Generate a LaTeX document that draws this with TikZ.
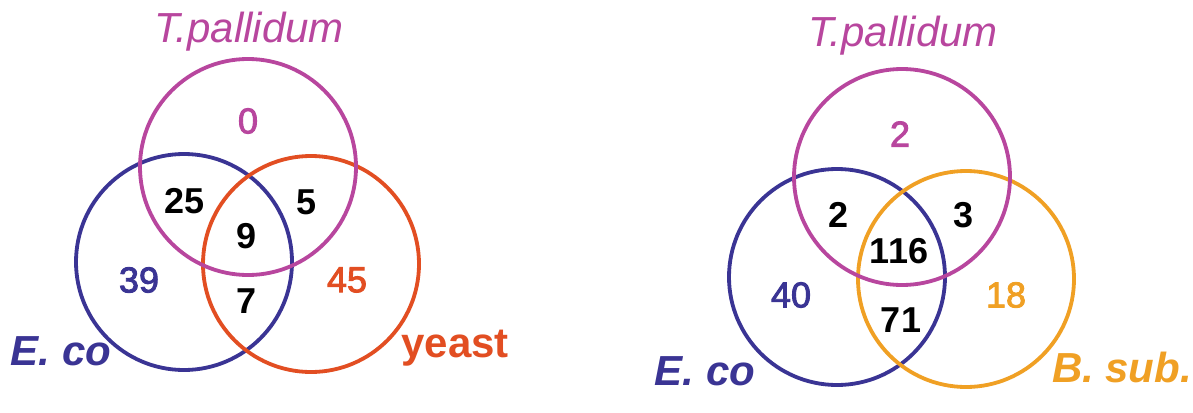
\documentclass[tikz,border=0pt]{standalone}
\usepackage{fontspec}
\setmainfont{Liberation Sans}
\newfontfamily\midfont[FakeBold=2.5]{Liberation Sans}
\definecolor{cpink}{RGB}{184,70,158}
\definecolor{cblue}{RGB}{58,52,148}
\definecolor{cred}{RGB}{226,78,34}
\definecolor{corange}{RGB}{240,160,36}
\tikzset{
  venn/.style={circle, draw=#1, line width=3.8pt, minimum size=216pt, inner sep=0pt},
  num/.style={inner sep=0pt, font=\fontsize{36}{40}\midfont},
  bnum/.style={inner sep=0pt, font=\fontsize{36}{40}\selectfont\bfseries},
  lab/.style={inner sep=0pt, anchor=base, font=\fontsize{42}{48}\selectfont}
}
\begin{document}
\begin{tikzpicture}[x=1pt,y=-1pt]
\path[use as bounding box, fill=white] (0,0) rectangle (1193,412);
% left diagram
\node[venn=cblue] (ec1) at (184,262) {};
\node[venn=cred] (ye1) at (311,264) {};
\node[venn=cpink] (tp1) at (248,167) {};
\node[lab, text=cpink, font=\fontsize{42}{48}\selectfont\itshape] (ltp1) at (249,43) {T.pallidum};
\node[lab, text=cblue, font=\fontsize{42}{48}\selectfont\bfseries\itshape] (lec1) at (61,365) {E. co};
\node[lab, text=cred, font=\fontsize{42}{48}\selectfont\bfseries] (lye1) at (455,357) {yeast};
\node[num, text=cpink] (n0) at (248,121) {0};
\node[bnum] (n25) at (185,201) {25};
\node[bnum] (n5) at (307,202) {5};
\node[bnum] (n9) at (247,236) {9};
\node[bnum] (n7) at (247,301) {7};
\node[num, text=cblue] (n39) at (139,280) {39};
\node[num, text=cred] (n45) at (347,280) {45};
% right diagram
\node[venn=cblue] (ec2) at (837,277) {};
\node[venn=corange] (bs2) at (966,279) {};
\node[venn=cpink] (tp2) at (902,177) {};
\node[lab, text=cpink, font=\fontsize{42}{48}\selectfont\itshape] (ltp2) at (903,47) {T.pallidum};
\node[lab, text=cblue, font=\fontsize{42}{48}\selectfont\bfseries\itshape] (lec2) at (705,385) {E. co};
\node[lab, text=corange, font=\fontsize{42}{48}\selectfont\bfseries\itshape] (lbs2) at (1122,382) {B. sub.};
\node[num, text=cpink] (m2a) at (900,134) {2};
\node[bnum] (m2b) at (838,215) {2};
\node[bnum] (m3) at (963,215) {3};
\node[bnum] (m116) at (899,251) {116};
\node[bnum] (m71) at (901,320) {71};
\node[num, text=cblue] (m40) at (791,295) {40};
\node[num, text=corange] (m18) at (1006,295) {18};
\end{tikzpicture}
\end{document}
